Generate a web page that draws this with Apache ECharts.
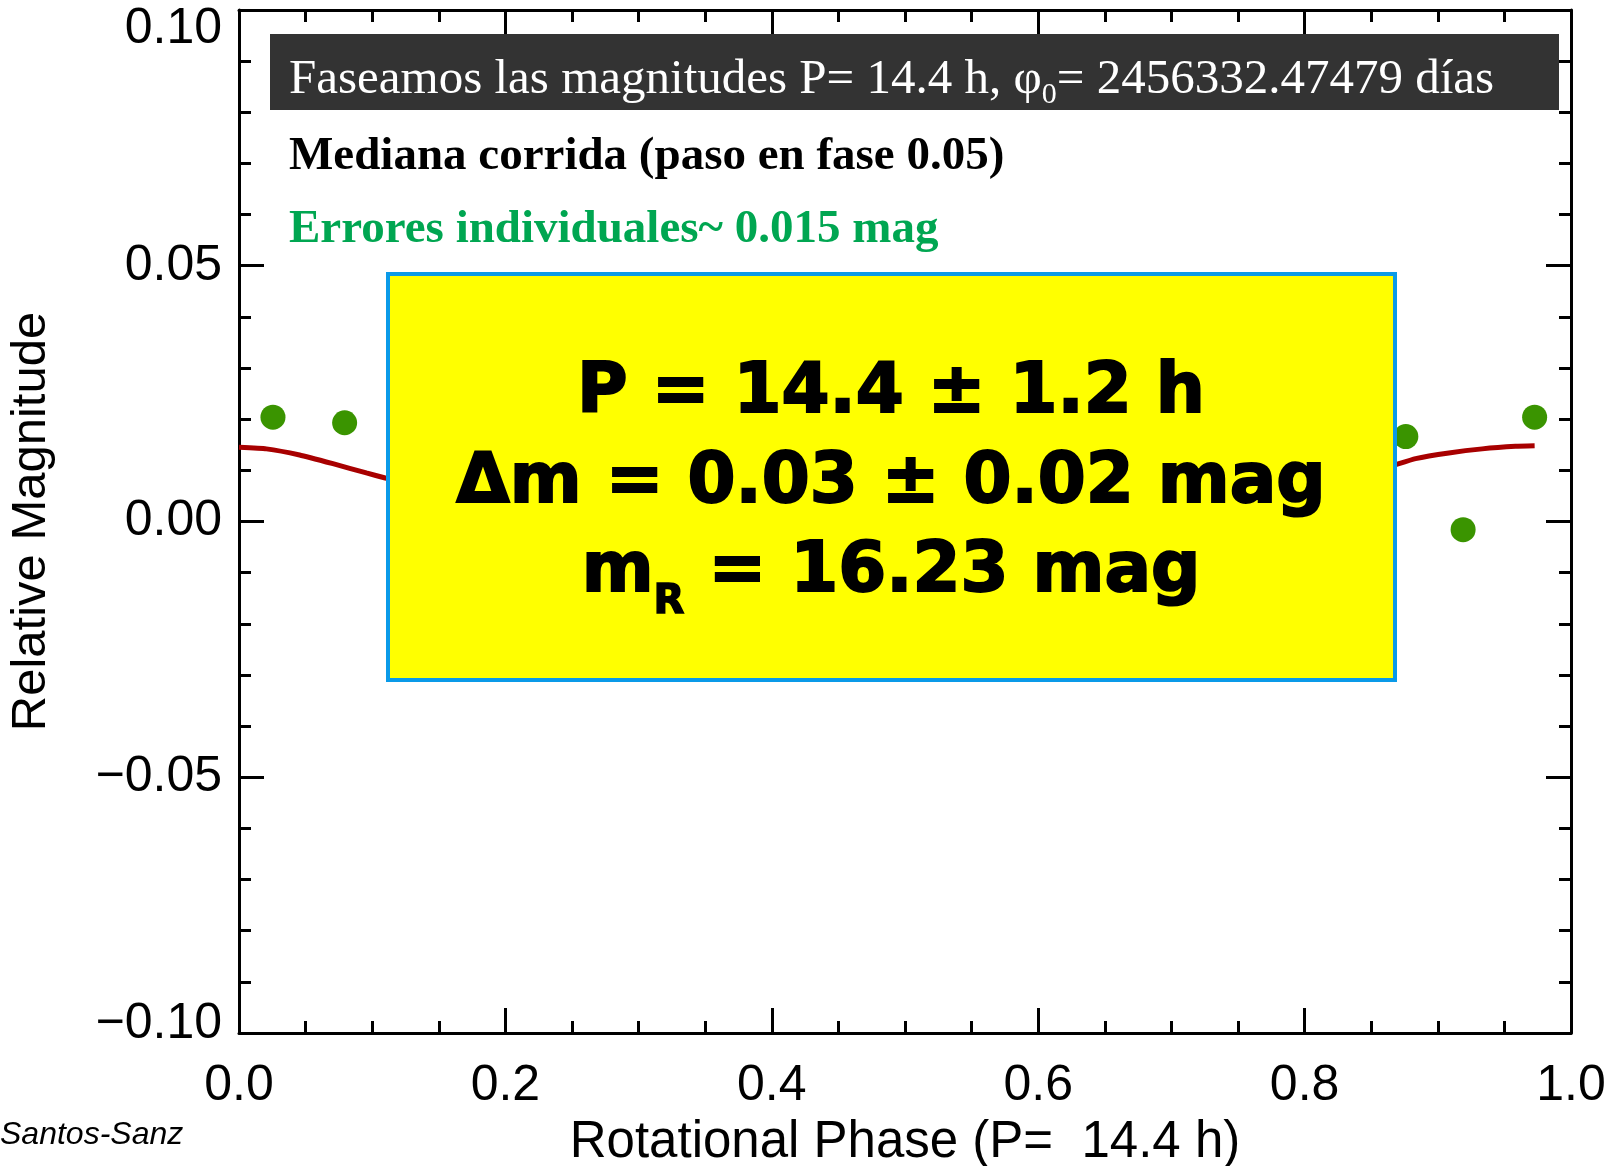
<!DOCTYPE html>
<html>
<head>
<meta charset="utf-8">
<script src="https://cdn.jsdelivr.net/npm/echarts@6/dist/echarts.min.js"></script>
<style>
  html, body {
    margin: 0;
    padding: 0;
    background: #fff;
  }
  #chart {
    width: 1614px;
    height: 1166px;
  }
</style>
</head>
<body>
<div id="chart"></div>
<script>
// puntos individuales (fase, magnitud relativa)
var dotPhase = [0.0255, 0.0793, 0.876, 0.919, 0.9727];
var dotMag = [0.0204, 0.0193, 0.0166, -0.0016, 0.0204];

// mediana corrida, solo los tramos visibles fuera del recuadro amarillo
var medLeftPhase = [0.0, 0.0206, 0.0455, 0.0705, 0.0956, 0.1098, 0.113];
var medLeftMag = [0.0145, 0.0142, 0.0130, 0.0113, 0.0095, 0.0085, 0.0083];
var medRightPhase = [0.865, 0.8683, 0.8833, 0.9083, 0.9333, 0.9583, 0.9727];
var medRightMag = [0.0108, 0.0111, 0.0123, 0.0134, 0.0142, 0.0147, 0.0148];

// ejes
var phaseRange = [0, 1, 0.2];
var magRange = [-0.1, 0.1, 0.05];

var headerText = ['Faseamos las magnitudes P= 14.4 h, \u03c6', '0', '= 2456332.47479 d\u00edas'];
var medianText = 'Mediana corrida (paso en fase 0.05)';
var errorText = 'Errores individuales~ 0.015 mag';
var resultLines = ['P = 14.4 \u00b1 1.2 h', '\u0394m = 0.03 \u00b1 0.02 mag', ['m', 'R', ' = 16.23 mag']];

var zip = function (xs, ys) {
  return xs.map(function (x, i) { return [x, ys[i]]; });
};

var axisFont = 'Liberation Sans, Arial, sans-serif';
var serif = 'Liberation Serif, Times New Roman, serif';
var heavy = 'DejaVu Sans, sans-serif';

var baseAxis = {
  axisLine: { show: true, onZero: false, lineStyle: { color: '#000', width: 3 } },
  axisTick: { show: true, inside: true, length: 25, lineStyle: { color: '#000', width: 3 } },
  minorTick: { show: true, splitNumber: 5, length: 12, lineStyle: { color: '#000', width: 3 } },
  splitLine: { show: false }
};

function magLabel(v) {
  var s = v.toFixed(2).replace('-', '\u2212');
  if (Math.abs(v - 0.1) < 1e-9) return '{t|' + s + '}';
  if (Math.abs(v + 0.1) < 1e-9) return '{b|' + s + '}';
  return s;
}

var myChart = echarts.init(document.getElementById('chart'));
var option = {
  animation: false,
  backgroundColor: '#fff',
  grid: { left: 239, right: 43, top: 10, bottom: 133, containLabel: false, outerBoundsMode: 'none' },
  xAxis: [
    Object.assign({}, baseAxis, {
      type: 'value', min: phaseRange[0], max: phaseRange[1], interval: phaseRange[2],
      minorTick: Object.assign({}, baseAxis.minorTick, { splitNumber: 4 }),
      axisLabel: {
        color: '#000', fontFamily: axisFont, fontSize: 50, margin: 28,
        formatter: function (v) { return v.toFixed(1); }
      },
      name: 'Rotational Phase (P=  14.4 h)', nameLocation: 'middle', nameGap: 84,
      nameTextStyle: { color: '#000', fontFamily: axisFont, fontSize: 51 }
    }),
    Object.assign({}, baseAxis, {
      type: 'value', position: 'top', min: phaseRange[0], max: phaseRange[1], interval: phaseRange[2],
      minorTick: Object.assign({}, baseAxis.minorTick, { splitNumber: 4 }),
      axisLabel: { show: false }
    })
  ],
  yAxis: [
    Object.assign({}, baseAxis, {
      type: 'value', min: magRange[0], max: magRange[1], interval: magRange[2],
      axisLabel: {
        color: '#000', fontFamily: axisFont, fontSize: 50, margin: 17,
        formatter: magLabel,
        rich: {
          t: { color: '#000', fontFamily: axisFont, fontSize: 50, padding: [38, 0, 0, 0] },
          b: { color: '#000', fontFamily: axisFont, fontSize: 50, padding: [0, 0, 18, 0] }
        }
      },
      name: 'Relative Magnitude', nameLocation: 'middle', nameGap: 183,
      nameTextStyle: { color: '#000', fontFamily: axisFont, fontSize: 49 }
    }),
    Object.assign({}, baseAxis, {
      type: 'value', position: 'right', min: magRange[0], max: magRange[1], interval: magRange[2],
      axisLabel: { show: false }
    })
  ],
  series: [
    {
      name: 'Mediana corrida',
      type: 'line',
      data: zip(medLeftPhase, medLeftMag),
      smooth: 0.15,
      showSymbol: false,
      lineStyle: { color: '#a80000', width: 5 },
      z: 3
    },
    {
      name: 'Mediana corrida',
      type: 'line',
      data: zip(medRightPhase, medRightMag),
      smooth: 0.15,
      showSymbol: false,
      lineStyle: { color: '#a80000', width: 5 },
      z: 3
    },
    {
      name: 'Magnitudes',
      type: 'scatter',
      data: zip(dotPhase, dotMag),
      symbolSize: 25,
      itemStyle: { color: '#3a9400', opacity: 1 },
      z: 4
    }
  ],
  graphic: [
    {
      type: 'rect', z: 100,
      shape: { x: 270, y: 34, width: 1289, height: 76 },
      style: { fill: '#333333' }
    },
    {
      type: 'text', z: 101, left: 289, top: 50,
      style: {
        text: '{a|' + headerText[0] + '}{s|' + headerText[1] + '}{a|' + headerText[2] + '}',
        rich: {
          a: { fill: '#fff', fontFamily: serif, fontSize: 49, lineHeight: 52 },
          s: { fill: '#fff', fontFamily: serif, fontSize: 30, lineHeight: 32, padding: [30, 0, 0, 0] }
        }
      }
    },
    {
      type: 'text', z: 101, left: 289, top: 133,
      style: { text: medianText, fill: '#000', font: 'bold 47px ' + serif }
    },
    {
      type: 'text', z: 101, left: 289, top: 206,
      style: { text: errorText, fill: '#00a651', font: 'bold 47px ' + serif }
    },
    {
      type: 'rect', z: 100,
      shape: { x: 388, y: 274, width: 1007, height: 406 },
      style: { fill: '#ffff00', stroke: '#0a9ae8', lineWidth: 4 }
    },
    {
      type: 'text', z: 101, x: 891, y: 394,
      style: {
        text: resultLines[0], fill: '#000', font: 'bold 69px ' + heavy,
        align: 'center', verticalAlign: 'middle', stroke: '#000', lineWidth: 2
      }
    },
    {
      type: 'text', z: 101, x: 891, y: 484,
      style: {
        text: resultLines[1], fill: '#000', font: 'bold 69px ' + heavy,
        align: 'center', verticalAlign: 'middle', stroke: '#000', lineWidth: 2
      }
    },
    {
      type: 'text', z: 101, x: 891, y: 573,
      style: {
        text: '{m|' + resultLines[2][0] + '}{r|' + resultLines[2][1] + '}{m|' + resultLines[2][2] + '}',
        align: 'center', verticalAlign: 'middle',
        rich: {
          m: { fill: '#000', fontFamily: heavy, fontWeight: 'bold', fontSize: 69, lineHeight: 70, stroke: '#000', lineWidth: 2 },
          r: { fill: '#000', fontFamily: heavy, fontWeight: 'bold', fontSize: 40, lineHeight: 40, padding: [60, 0, 0, 0], stroke: '#000', lineWidth: 1.5 }
        }
      }
    },
    {
      type: 'text', z: 101, left: 0, top: 1119,
      style: { text: 'Santos-Sanz', fill: '#000', font: 'italic 32px ' + axisFont }
    }
  ]
};
if (option && typeof option === 'object') {
  myChart.setOption(option, true);
}
</script>
</body>
</html>
